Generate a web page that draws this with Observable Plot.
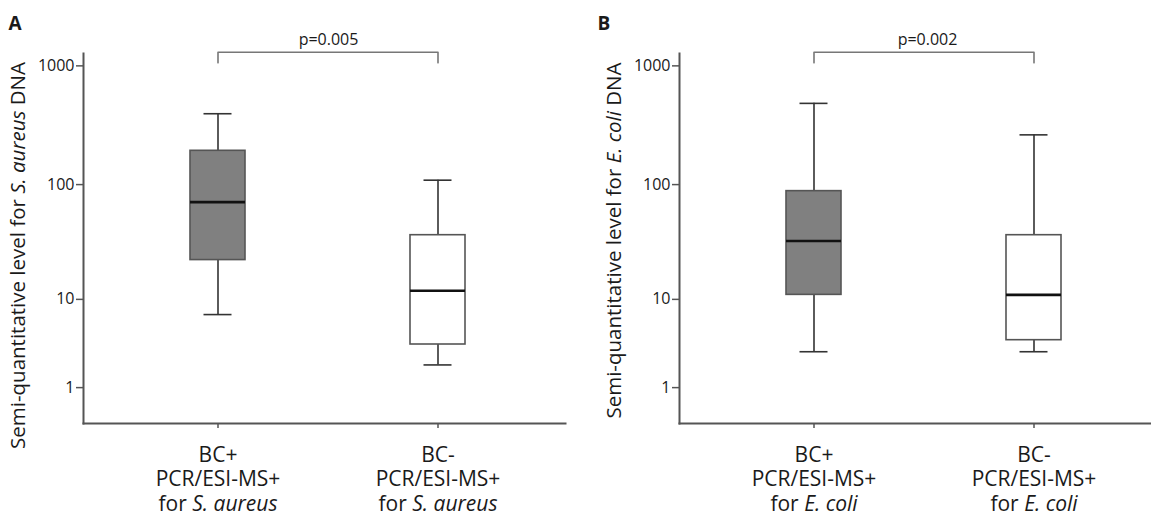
<!DOCTYPE html>
<html><head><meta charset="utf-8">
<script src="https://cdn.jsdelivr.net/npm/d3@7"></script>
<script src="https://cdn.jsdelivr.net/npm/@observablehq/plot@0.6"></script>
<style>
body{margin:0;background:#fff;}
#wrap{display:flex;width:1151px;height:517px;overflow:hidden;}
</style></head><body><div id="wrap"></div>
<script>
// ---- data ----
const groupsA = ["BC+ S. aureus", "BC- S. aureus"];
const groupsB = ["BC+ E. coli", "BC- E. coli"];
const tickLinesA = [["BC+", "PCR/ESI-MS+", "for S. aureus"], ["BC-", "PCR/ESI-MS+", "for S. aureus"]];
const tickLinesB = [["BC+", "PCR/ESI-MS+", "for E. coli"], ["BC-", "PCR/ESI-MS+", "for E. coli"]];
const lowA = [7.2, 2.1], q1A = [22.5, 3.6], medA = [71, 12], q3A = [193, 37], highA = [396, 109];
const lowB = [3.0, 3.0], q1B = [11, 4.0], medB = [33, 11], q3B = [88, 37], highB = [484, 263];
const boxFills = ["#808080", "#ffffff"];
const yTicks = [1, 10, 100, 1000];
const pA = "p=0.005", pB = "p=0.002";
const bracketTop = 1300, bracketTip = 1060;
const titleA = "Semi-quantitative level for S. aureus DNA";
const titleB = "Semi-quantitative level for E. coli DNA";

// split a text run into normal + italic runs (siblings, not nested)
function richify(svg, part) {
  const nodes = [];
  d3.select(svg).selectAll("text, tspan").each(function() {
    if (this.childElementCount === 0 && this.textContent.includes(part)) nodes.push(this);
  });
  for (const n of nodes) {
    const t = n.textContent, i = t.indexOf(part);
    const pieces = [[t.slice(0, i), null], [part, "italic"], [t.slice(i + part.length), null]].filter(p => p[0]);
    if (n.tagName === "text") {
      const s = d3.select(n); s.text(null);
      for (const [txt, st] of pieces) { const ts = s.append("tspan").text(txt); if (st) ts.attr("font-style", st); }
    } else {
      const parent = n.parentNode;
      pieces.forEach(([txt, st], k) => {
        const ts = document.createElementNS("http://www.w3.org/2000/svg", "tspan");
        ts.textContent = txt;
        if (st) ts.setAttribute("font-style", st);
        if (k === 0) for (const a of n.attributes) ts.setAttribute(a.name, a.value);
        parent.insertBefore(ts, n);
      });
      parent.removeChild(n);
    }
  }
}

function panel(o) {
  const rows = o.groups.map((g, i) => ({g, lo: o.lo[i], q1: o.q1[i], med: o.med[i], q3: o.q3[i], hi: o.hi[i], fill: boxFills[i]}));
  const bracket = [
    {g: o.groups[0], y: bracketTip}, {g: o.groups[0], y: bracketTop},
    {g: o.groups[1], y: bracketTop}, {g: o.groups[1], y: bracketTip}
  ];
  const lab = new Map(o.groups.map((g, i) => [g, o.tickLines[i].join("\n")]));
  const svg = Plot.plot({
    width: o.width, height: 517,
    marginTop: 53, marginBottom: 94, marginLeft: o.marginLeft, marginRight: o.marginRight,
    style: {fontFamily: "'Open Sans', sans-serif", color: "#1a1a1a", background: "white"},
    x: {type: "band", domain: o.groups, range: o.xRange, paddingInner: 0.75, paddingOuter: 0, label: null},
    y: {type: "symlog", constant: 1, domain: [0, 1270], label: null},
    marks: [
      Plot.axisY({ticks: yTicks, tickFormat: d => String(d), tickSize: 7, tickPadding: 2, fontSize: 16, stroke: "#555", strokeWidth: 1.5, label: null}),
      Plot.axisX({tickFormat: d => lab.get(d), tickSize: 5, tickPadding: 16, fontSize: 21, lineHeight: 24.5 / 21, stroke: "#555", strokeWidth: 1.5, label: null}),
      Plot.frame({anchor: "left", stroke: "#555", strokeWidth: 2}),
      Plot.frame({anchor: "bottom", stroke: "#555", strokeWidth: 2}),
      Plot.ruleX(rows, {x: "g", y1: "lo", y2: "hi", stroke: "#333", strokeWidth: 1.6}),
      Plot.barY(rows, {x: "g", y1: "q1", y2: "q3", fill: "fill", stroke: "#555", strokeWidth: 1.6}),
      Plot.tickY(rows, {x: "g", y: "med", stroke: "#111", strokeWidth: 2.6}),
      Plot.tickY(rows, {x: "g", y: "hi", insetLeft: 13.5, insetRight: 13.5, stroke: "#333", strokeWidth: 1.6}),
      Plot.tickY(rows, {x: "g", y: "lo", insetLeft: 13.5, insetRight: 13.5, stroke: "#333", strokeWidth: 1.6}),
      Plot.line(bracket, {x: "g", y: "y", stroke: "#777", strokeWidth: 1.6}),
      Plot.text([o.p], {frameAnchor: "top", dx: o.pdx, dy: -9, lineAnchor: "bottom", fontSize: 16}),
      Plot.text([o.letter], {frameAnchor: "top-left", dx: o.letterDx, dy: -24, lineAnchor: "bottom", textAnchor: "start", fontSize: 19, fontWeight: "bold"}),
      Plot.text([o.title], {frameAnchor: "left", rotate: -90, dx: -59, dy: o.titleDy, lineAnchor: "bottom", textAnchor: "middle", fontSize: 20.5})
    ]
  });
  richify(svg, o.italic);
  return svg;
}

const wrap = document.getElementById("wrap");
wrap.append(panel({
  groups: groupsA, tickLines: tickLinesA, lo: lowA, q1: q1A, med: medA, q3: q3A, hi: highA,
  p: pA, letter: "A", title: titleA, italic: "S. aureus",
  width: 580, marginLeft: 83, marginRight: 15, xRange: [189.5, 465.5], pdx: 4, letterDx: -75, titleDy: 17
}));
wrap.append(panel({
  groups: groupsB, tickLines: tickLinesB, lo: lowB, q1: q1B, med: medB, q3: q3B, hi: highB,
  p: pB, letter: "B", title: titleB, italic: "E. coli",
  width: 571, marginLeft: 99, marginRight: 0, xRange: [205.5, 480.5], pdx: 12, letterDx: -82, titleDy: 2
}));
</script></body></html>
